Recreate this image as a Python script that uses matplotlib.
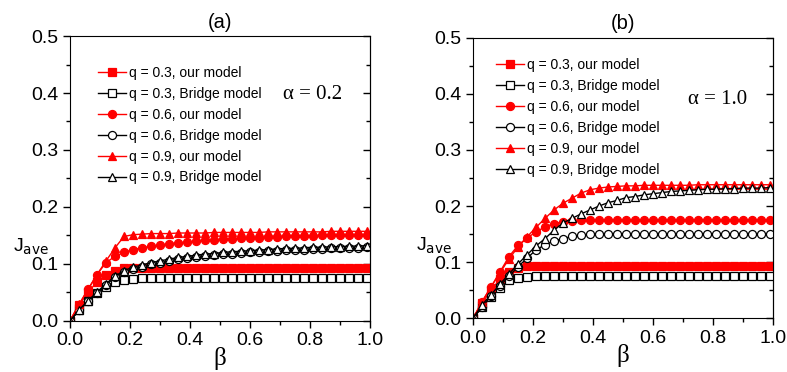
import matplotlib
matplotlib.use("Agg")
import matplotlib.pyplot as plt
from matplotlib.ticker import MultipleLocator

plt.rcParams['font.family'] = ['Liberation Sans', 'DejaVu Sans']

beta = [0.00, 0.03, 0.06, 0.09, 0.12, 0.15, 0.18, 0.21, 0.24, 0.27,
        0.30, 0.33, 0.36, 0.39, 0.42, 0.45, 0.48, 0.51, 0.54, 0.57,
        0.60, 0.63, 0.66, 0.69, 0.72, 0.75, 0.78, 0.81, 0.84, 0.87,
        0.90, 0.93, 0.96, 0.99]

# panel (a), alpha = 0.2
a_sq_our = [0.000, 0.027, 0.050, 0.068, 0.080, 0.088, 0.092, 0.093, 0.093, 0.093,
            0.093, 0.093, 0.093, 0.093, 0.093, 0.093, 0.093, 0.093, 0.093, 0.093,
            0.093, 0.093, 0.093, 0.093, 0.093, 0.093, 0.093, 0.093, 0.093, 0.093,
            0.093, 0.093, 0.093, 0.093]
a_sq_br = [0.000, 0.018, 0.034, 0.048, 0.060, 0.068, 0.072, 0.074, 0.075, 0.075,
           0.075, 0.075, 0.075, 0.075, 0.075, 0.075, 0.075, 0.075, 0.075, 0.075,
           0.075, 0.075, 0.075, 0.075, 0.075, 0.075, 0.075, 0.075, 0.075, 0.075,
           0.075, 0.075, 0.075, 0.075]
a_ci_our = [0.000, 0.028, 0.055, 0.081, 0.102, 0.113, 0.120, 0.125, 0.128, 0.131,
            0.133, 0.135, 0.137, 0.138, 0.140, 0.141, 0.142, 0.143, 0.144, 0.145,
            0.146, 0.146, 0.147, 0.147, 0.148, 0.148, 0.149, 0.149, 0.150, 0.150,
            0.150, 0.151, 0.151, 0.151]
a_ci_br = [0.000, 0.018, 0.034, 0.049, 0.063, 0.076, 0.085, 0.091, 0.095, 0.099,
           0.102, 0.105, 0.108, 0.110, 0.112, 0.114, 0.116, 0.117, 0.118, 0.119,
           0.120, 0.121, 0.122, 0.123, 0.124, 0.124, 0.125, 0.126, 0.126, 0.127,
           0.127, 0.128, 0.128, 0.129]
a_tr_our = [0.000, 0.029, 0.055, 0.081, 0.105, 0.128, 0.148, 0.151, 0.152, 0.153,
            0.153, 0.153, 0.154, 0.154, 0.154, 0.154, 0.155, 0.155, 0.155, 0.155,
            0.155, 0.155, 0.156, 0.156, 0.156, 0.156, 0.156, 0.156, 0.156, 0.157,
            0.157, 0.157, 0.157, 0.157]
a_tr_br = [0.000, 0.019, 0.035, 0.050, 0.065, 0.078, 0.088, 0.094, 0.098, 0.102,
           0.105, 0.108, 0.111, 0.113, 0.115, 0.117, 0.118, 0.120, 0.121, 0.122,
           0.123, 0.124, 0.125, 0.126, 0.127, 0.127, 0.128, 0.129, 0.129, 0.130,
           0.130, 0.131, 0.131, 0.132]

# panel (b), alpha = 1.0
b_sq_our = [0.000, 0.027, 0.050, 0.070, 0.083, 0.090, 0.093, 0.093, 0.093, 0.093,
            0.093, 0.093, 0.093, 0.093, 0.093, 0.093, 0.093, 0.093, 0.093, 0.093,
            0.093, 0.093, 0.093, 0.093, 0.093, 0.093, 0.093, 0.093, 0.093, 0.093,
            0.093, 0.093, 0.093, 0.093]
b_sq_br = [0.000, 0.020, 0.038, 0.054, 0.068, 0.072, 0.074, 0.075, 0.075, 0.075,
           0.075, 0.075, 0.075, 0.075, 0.075, 0.075, 0.075, 0.075, 0.075, 0.075,
           0.075, 0.075, 0.075, 0.075, 0.075, 0.075, 0.075, 0.075, 0.075, 0.075,
           0.075, 0.075, 0.075, 0.075]
b_ci_our = [0.000, 0.029, 0.056, 0.083, 0.110, 0.130, 0.143, 0.154, 0.163, 0.169,
            0.172, 0.174, 0.175, 0.175, 0.175, 0.175, 0.175, 0.175, 0.175, 0.175,
            0.175, 0.175, 0.175, 0.175, 0.175, 0.175, 0.175, 0.175, 0.175, 0.175,
            0.175, 0.175, 0.175, 0.175]
b_ci_br = [0.000, 0.020, 0.040, 0.058, 0.075, 0.092, 0.107, 0.122, 0.131, 0.138,
           0.142, 0.146, 0.148, 0.150, 0.151, 0.151, 0.151, 0.151, 0.151, 0.151,
           0.151, 0.151, 0.151, 0.151, 0.151, 0.151, 0.151, 0.151, 0.151, 0.151,
           0.151, 0.151, 0.151, 0.151]
b_tr_our = [0.000, 0.030, 0.056, 0.081, 0.106, 0.127, 0.145, 0.162, 0.178, 0.193,
            0.205, 0.214, 0.223, 0.229, 0.232, 0.234, 0.235, 0.236, 0.236, 0.237,
            0.237, 0.237, 0.237, 0.237, 0.237, 0.238, 0.238, 0.238, 0.238, 0.238,
            0.238, 0.238, 0.238, 0.238]
b_tr_br = [0.000, 0.024, 0.042, 0.061, 0.079, 0.097, 0.113, 0.129, 0.142, 0.157,
           0.170, 0.178, 0.186, 0.193, 0.200, 0.206, 0.210, 0.215, 0.217, 0.220,
           0.222, 0.224, 0.226, 0.227, 0.228, 0.229, 0.230, 0.230, 0.231, 0.231,
           0.232, 0.232, 0.232, 0.233]

labels = ["q = 0.3, our model", "q = 0.3, Bridge model",
          "q = 0.6, our model", "q = 0.6, Bridge model",
          "q = 0.9, our model", "q = 0.9, Bridge model"]
markers = ['s', 's', 'o', 'o', '^', '^']
panels = [
    ("(a)", "α = 0.2", [a_sq_our, a_sq_br, a_ci_our, a_ci_br, a_tr_our, a_tr_br],
     [0.089, 0.138, 0.381, 0.765], (0.06, 0.93), (0.81, 0.795)),
    ("(b)", "α = 1.0", [b_sq_our, b_sq_br, b_ci_our, b_ci_br, b_tr_our, b_tr_br],
     [0.601, 0.144, 0.381, 0.755], (0.045, 0.962), (0.815, 0.778)),
]

fig = plt.figure(figsize=(7.87, 3.72), dpi=100)
for title, alpha_txt, series, rect, leg_pos, a_pos in panels:
    ax = fig.add_axes(rect)
    for i, ys in enumerate(series):
        ours = i % 2 == 0
        col = 'red' if ours else 'black'
        ax.plot(beta, ys, color=col, lw=1.0, marker=markers[i], ms=6.4 if markers[i] == '^' else 5.8,
                mfc='red' if ours else 'white', mec=col, mew=0.9, label=labels[i])
    ax.set_xlim(0, 1.0)
    ax.set_ylim(0, 0.5)
    ax.set_xticks([0.0, 0.2, 0.4, 0.6, 0.8, 1.0])
    ax.set_xticklabels(["0.0", "0.2", "0.4", "0.6", "0.8", "1.0"])
    ax.set_yticks([0.0, 0.1, 0.2, 0.3, 0.4, 0.5])
    ax.set_yticklabels(["0.0", "0.1", "0.2", "0.3", "0.4", "0.5"])
    ax.xaxis.set_minor_locator(MultipleLocator(0.1))
    ax.yaxis.set_minor_locator(MultipleLocator(0.05))
    ax.tick_params(which='both', direction='out', labelsize=14)
    ax.tick_params(which='major', length=5, width=1)
    ax.tick_params(which='minor', length=3, width=1)
    # right-hand ticks point inward, no labels
    sec = ax.secondary_yaxis('right')
    sec.set_yticks([0.0, 0.1, 0.2, 0.3, 0.4, 0.5])
    sec.yaxis.set_minor_locator(MultipleLocator(0.05))
    sec.tick_params(which='both', direction='in', labelright=False)
    sec.tick_params(which='major', length=5, width=1)
    sec.tick_params(which='minor', length=3, width=1)
    ax.set_title(title, fontsize=14.5, pad=6)
    ax.set_xlabel("β", family=['Liberation Serif'], fontsize=18, labelpad=-2)
    ax.text(-0.19, 0.26, r"J$_{\mathrm{ave}}$", transform=ax.transAxes, fontsize=14,
            ha='left', va='center')
    ax.text(a_pos[0], a_pos[1], alpha_txt, transform=ax.transAxes, fontsize=15,
            family=['Liberation Serif'], ha='center', va='center')
    ax.legend(loc='upper left', bbox_to_anchor=leg_pos, frameon=False, fontsize=10,
              handlelength=2.0, handletextpad=0.25, labelspacing=0.5, borderpad=0.2)

fig.savefig("out.png", dpi=100)
